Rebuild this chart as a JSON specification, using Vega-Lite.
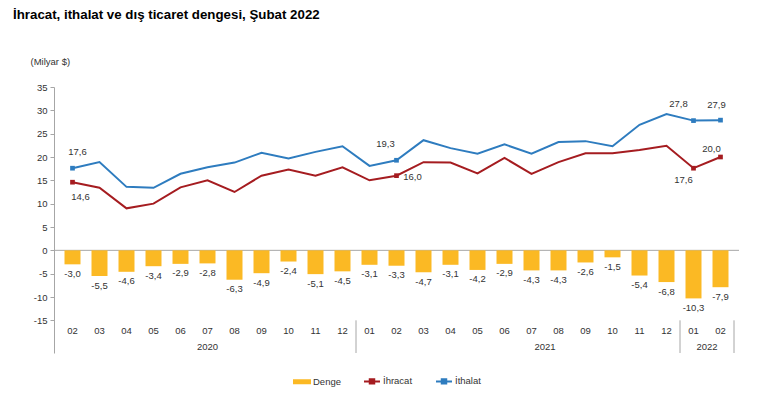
{
  "$schema": "https://vega.github.io/schema/vega-lite/v6.json",
  "width": 685,
  "height": 266,
  "autosize": "none",
  "padding": {"left": 54, "top": 87, "right": 34, "bottom": 46},
  "title": {"text": "İhracat, ithalat ve dış ticaret dengesi, Şubat 2022", "anchor": "start", "frame": "group", "font": "Liberation Sans", "fontSize": 13.3, "fontWeight": "bold", "color": "#000000", "dx": -41, "dy": -35, "offset": 0},
  "config": {
    "view": {"stroke": null},
    "font": "Liberation Sans",
    "locale": {"number": {"decimal": ",", "thousands": ".", "grouping": [3], "currency": ["", " $"], "minus": "-"}},
    "text": {"font": "Liberation Sans", "fontSize": 9.5, "color": "#333333"}
  },
  "datasets": {
    "main": [
      {"i": 0, "ay": "02", "denge": -3.0, "ihracat": 14.6, "ithalat": 17.6},
      {"i": 1, "ay": "03", "denge": -5.5, "ihracat": 13.4, "ithalat": 18.9},
      {"i": 2, "ay": "04", "denge": -4.6, "ihracat": 9.0, "ithalat": 13.6},
      {"i": 3, "ay": "05", "denge": -3.4, "ihracat": 10.0, "ithalat": 13.4},
      {"i": 4, "ay": "06", "denge": -2.9, "ihracat": 13.5, "ithalat": 16.4},
      {"i": 5, "ay": "07", "denge": -2.8, "ihracat": 15.0, "ithalat": 17.8},
      {"i": 6, "ay": "08", "denge": -6.3, "ihracat": 12.5, "ithalat": 18.8},
      {"i": 7, "ay": "09", "denge": -4.9, "ihracat": 16.0, "ithalat": 20.9},
      {"i": 8, "ay": "10", "denge": -2.4, "ihracat": 17.3, "ithalat": 19.7},
      {"i": 9, "ay": "11", "denge": -5.1, "ihracat": 16.0, "ithalat": 21.1},
      {"i": 10, "ay": "12", "denge": -4.5, "ihracat": 17.8, "ithalat": 22.3},
      {"i": 11, "ay": "01", "denge": -3.1, "ihracat": 15.0, "ithalat": 18.1},
      {"i": 12, "ay": "02", "denge": -3.3, "ihracat": 16.0, "ithalat": 19.3},
      {"i": 13, "ay": "03", "denge": -4.7, "ihracat": 18.9, "ithalat": 23.6},
      {"i": 14, "ay": "04", "denge": -3.1, "ihracat": 18.8, "ithalat": 21.9},
      {"i": 15, "ay": "05", "denge": -4.2, "ihracat": 16.5, "ithalat": 20.7},
      {"i": 16, "ay": "06", "denge": -2.9, "ihracat": 19.8, "ithalat": 22.7},
      {"i": 17, "ay": "07", "denge": -4.3, "ihracat": 16.4, "ithalat": 20.7},
      {"i": 18, "ay": "08", "denge": -4.3, "ihracat": 18.9, "ithalat": 23.2},
      {"i": 19, "ay": "09", "denge": -2.6, "ihracat": 20.8, "ithalat": 23.4},
      {"i": 20, "ay": "10", "denge": -1.5, "ihracat": 20.8, "ithalat": 22.3},
      {"i": 21, "ay": "11", "denge": -5.4, "ihracat": 21.5, "ithalat": 26.9},
      {"i": 22, "ay": "12", "denge": -6.8, "ihracat": 22.4, "ithalat": 29.2},
      {"i": 23, "ay": "01", "denge": -10.3, "ihracat": 17.6, "ithalat": 27.8},
      {"i": 24, "ay": "02", "denge": -7.9, "ihracat": 20.0, "ithalat": 27.9}
    ],
    "years": [
      {"yil": "2020", "x": 5},
      {"yil": "2021", "x": 17.5},
      {"yil": "2022", "x": 23.5}
    ],
    "seps": [
      {"x": 10.5},
      {"x": 22.5},
      {"x": 24.5}
    ]
  },
  "data": {"name": "main"},
  "layer": [
    {
      "data": {"values": [{"v": 0}]},
      "mark": {"type": "rule", "color": "#A6A6A6", "strokeWidth": 1},
      "encoding": {
        "y": {"field": "v", "type": "quantitative", "scale": {"domain": [-22, 35], "nice": false, "zero": false},
          "axis": {"title": "(Milyar $)", "titleAngle": 0, "titleAlign": "left", "titleBaseline": "middle", "titleX": -24, "titleY": -26, "titleFont": "Liberation Sans", "titleFontSize": 9.5, "titleFontWeight": "normal", "titleColor": "#333333",
            "values": [-15, -10, -5, 0, 5, 10, 15, 20, 25, 30, 35], "tickCount": 12, "labelOverlap": false, "grid": false, "domainColor": "#A6A6A6", "tickColor": "#A6A6A6", "tickSize": 4, "labelFont": "Liberation Sans", "labelFontSize": 9.5, "labelColor": "#333333", "labelPadding": 3}}
      }
    },
    {
      "mark": {"type": "bar", "size": 16},
      "encoding": {
        "x": {"field": "i", "type": "quantitative", "scale": {"domain": [-0.5, 24.5], "nice": false, "zero": false}, "axis": null},
        "y": {"field": "denge", "type": "quantitative"},
        "color": {"datum": "Denge", "scale": {"domain": ["Denge", "İhracat", "İthalat"], "range": ["#FBB924", "#A51C20", "#2E7CBF"]},
          "legend": {"title": null, "orient": "none", "legendX": 239, "legendY": 285, "direction": "horizontal", "symbolSize": 256, "symbolStrokeWidth": 2, "labelFont": "Liberation Sans", "labelFontSize": 9.5, "labelColor": "#333333", "columnPadding": 19, "labelOffset": 2,
            "encode": {"symbols": {"update": {
              "shape": {"signal": "datum.value === 'Denge' ? 'M-1,-0.18H1V0.18H-1Z' : 'M-1,0H1M-0.28,-0.28H0.28V0.28H-0.28Z'"},
              "fill": {"scale": "color", "field": "value"},
              "stroke": {"scale": "color", "field": "value"},
              "opacity": {"value": 1}, "fillOpacity": {"value": 1}, "strokeOpacity": {"value": 1}}}}}}
      }
    },
    {
      "mark": {"type": "text", "dy": 9.5, "baseline": "middle", "align": "center"},
      "encoding": {
        "x": {"field": "i", "type": "quantitative", "axis": null},
        "y": {"field": "denge", "type": "quantitative"},
        "text": {"field": "denge", "type": "quantitative", "format": ".1f"}
      }
    },
    {
      "mark": {"type": "line", "strokeWidth": 2},
      "encoding": {
        "x": {"field": "i", "type": "quantitative", "axis": null},
        "y": {"field": "ihracat", "type": "quantitative"},
        "color": {"datum": "İhracat"}
      }
    },
    {
      "mark": {"type": "line", "strokeWidth": 2},
      "encoding": {
        "x": {"field": "i", "type": "quantitative", "axis": null},
        "y": {"field": "ithalat", "type": "quantitative"},
        "color": {"datum": "İthalat"}
      }
    },
    {
      "transform": [{"filter": "datum.i == 0 || datum.i == 12 || datum.i == 23 || datum.i == 24"}],
      "mark": {"type": "point", "shape": "square", "filled": true, "size": 22, "opacity": 1},
      "encoding": {
        "x": {"field": "i", "type": "quantitative", "axis": null},
        "y": {"field": "ihracat", "type": "quantitative"},
        "color": {"datum": "İhracat"}
      }
    },
    {
      "transform": [{"filter": "datum.i == 0 || datum.i == 12 || datum.i == 23 || datum.i == 24"}],
      "mark": {"type": "point", "shape": "square", "filled": true, "size": 22, "opacity": 1},
      "encoding": {
        "x": {"field": "i", "type": "quantitative", "axis": null},
        "y": {"field": "ithalat", "type": "quantitative"},
        "color": {"datum": "İthalat"}
      }
    },
    {
      "transform": [{"filter": "datum.i == 0"}],
      "mark": {"type": "text", "dx": 5, "dy": -16, "baseline": "middle"},
      "encoding": {"x": {"field": "i", "type": "quantitative", "axis": null}, "y": {"field": "ithalat", "type": "quantitative"}, "text": {"field": "ithalat", "type": "quantitative", "format": ".1f"}}
    },
    {
      "transform": [{"filter": "datum.i == 0"}],
      "mark": {"type": "text", "dx": 8, "dy": 15, "baseline": "middle"},
      "encoding": {"x": {"field": "i", "type": "quantitative", "axis": null}, "y": {"field": "ihracat", "type": "quantitative"}, "text": {"field": "ihracat", "type": "quantitative", "format": ".1f"}}
    },
    {
      "transform": [{"filter": "datum.i == 12"}],
      "mark": {"type": "text", "dx": -11, "dy": -16, "baseline": "middle"},
      "encoding": {"x": {"field": "i", "type": "quantitative", "axis": null}, "y": {"field": "ithalat", "type": "quantitative"}, "text": {"field": "ithalat", "type": "quantitative", "format": ".1f"}}
    },
    {
      "transform": [{"filter": "datum.i == 12"}],
      "mark": {"type": "text", "dx": 16, "dy": 1, "baseline": "middle"},
      "encoding": {"x": {"field": "i", "type": "quantitative", "axis": null}, "y": {"field": "ihracat", "type": "quantitative"}, "text": {"field": "ihracat", "type": "quantitative", "format": ".1f"}}
    },
    {
      "transform": [{"filter": "datum.i == 23"}],
      "mark": {"type": "text", "dx": -15, "dy": -17, "baseline": "middle"},
      "encoding": {"x": {"field": "i", "type": "quantitative", "axis": null}, "y": {"field": "ithalat", "type": "quantitative"}, "text": {"field": "ithalat", "type": "quantitative", "format": ".1f"}}
    },
    {
      "transform": [{"filter": "datum.i == 24"}],
      "mark": {"type": "text", "dx": -4, "dy": -15, "baseline": "middle"},
      "encoding": {"x": {"field": "i", "type": "quantitative", "axis": null}, "y": {"field": "ithalat", "type": "quantitative"}, "text": {"field": "ithalat", "type": "quantitative", "format": ".1f"}}
    },
    {
      "transform": [{"filter": "datum.i == 24"}],
      "mark": {"type": "text", "dx": -9, "dy": -8, "baseline": "middle"},
      "encoding": {"x": {"field": "i", "type": "quantitative", "axis": null}, "y": {"field": "ihracat", "type": "quantitative"}, "text": {"field": "ihracat", "type": "quantitative", "format": ".1f"}}
    },
    {
      "transform": [{"filter": "datum.i == 23"}],
      "mark": {"type": "text", "dx": -10, "dy": 12, "baseline": "middle"},
      "encoding": {"x": {"field": "i", "type": "quantitative", "axis": null}, "y": {"field": "ihracat", "type": "quantitative"}, "text": {"field": "ihracat", "type": "quantitative", "format": ".1f"}}
    },
    {
      "mark": {"type": "text", "baseline": "middle", "align": "center"},
      "encoding": {
        "x": {"field": "i", "type": "quantitative", "axis": null},
        "y": {"datum": -17.2},
        "text": {"field": "ay", "type": "nominal"}
      }
    },
    {
      "data": {"name": "years"},
      "mark": {"type": "text", "baseline": "middle", "align": "center"},
      "encoding": {
        "x": {"field": "x", "type": "quantitative", "axis": null},
        "y": {"datum": -20.8},
        "text": {"field": "yil", "type": "nominal"}
      }
    },
    {
      "data": {"name": "seps"},
      "mark": {"type": "rule", "color": "#A6A6A6", "strokeWidth": 1},
      "encoding": {
        "x": {"field": "x", "type": "quantitative", "axis": null},
        "y": {"datum": -15},
        "y2": {"datum": -22}
      }
    }
  ]
}
